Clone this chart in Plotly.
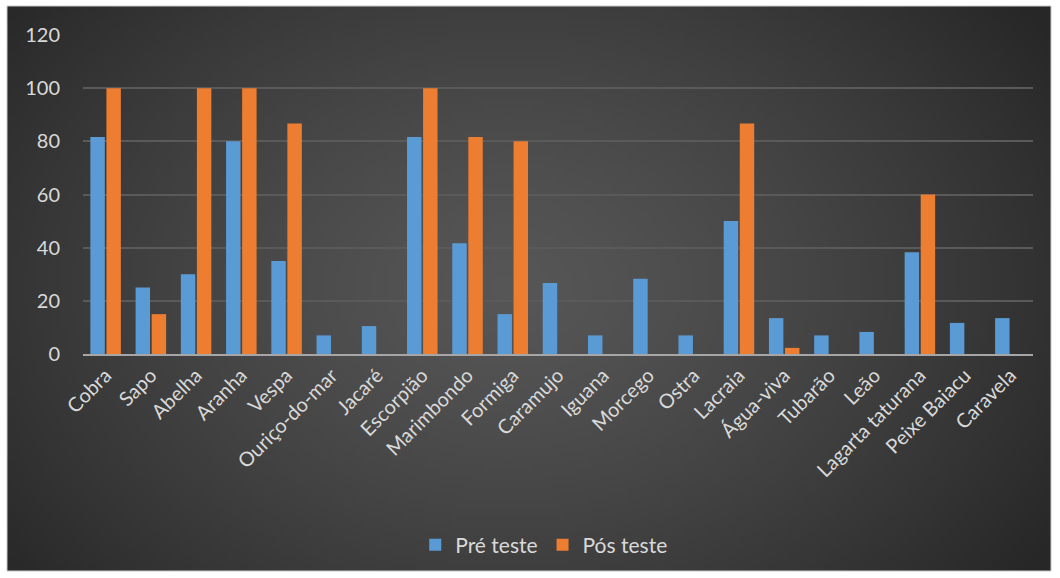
import base64, struct, zlib, math
import plotly.graph_objects as go

categories = ["Cobra", "Sapo", "Abelha", "Aranha", "Vespa", "Ouriço-do-mar", "Jacaré",
              "Escorpião", "Marimbondo", "Formiga", "Caramujo", "Iguana", "Morcego", "Ostra",
              "Lacraia", "Água-viva", "Tubarão", "Leão", "Lagarta taturana", "Peixe Baiacu", "Caravela"]
pre_teste = [81.6, 25, 30, 80, 35, 7, 10.5, 81.6, 41.7, 15, 26.7, 7, 28.3, 7, 50, 13.5, 7, 8.3, 38.3, 11.7, 13.5]
pos_teste = [100, 15, 100, 100, 86.7, 0, 0, 100, 81.6, 80, 0, 0, 0, 0, 86.7, 2.3, 0, 0, 60, 0, 0]
y_ticks = [0, 20, 40, 60, 80, 100, 120]


def gradient_png(w, h):
    rows = []
    for j in range(h):
        row = bytearray([0])
        for i in range(w):
            dx = (i / (w - 1) - 0.48) / 0.62
            dy = (j / (h - 1) - 0.5) / 0.85
            d = min(1.0, math.sqrt(dx * dx + dy * dy))
            v = int(round(0x56 + (0x27 - 0x56) * d ** 1.3))
            row += bytes([v, v, v])
        rows.append(bytes(row))
    raw = b"".join(rows)

    def chunk(t, data):
        c = struct.pack(">I", len(data)) + t + data
        return c + struct.pack(">I", zlib.crc32(t + data) & 0xFFFFFFFF)

    png = b"\x89PNG\r\n\x1a\n"
    png += chunk(b"IHDR", struct.pack(">IIBBBBB", w, h, 8, 2, 0, 0, 0))
    png += chunk(b"IDAT", zlib.compress(raw, 9))
    png += chunk(b"IEND", b"")
    return "data:image/png;base64," + base64.b64encode(png).decode()


W, H = 1060, 578
L, R, T, B = 83, 27, 35, 224
pw, ph = W - L - R, H - T - B

fig = go.Figure()
fig.add_trace(go.Bar(x=categories, y=pre_teste, name="Pré teste",
                     marker=dict(color="#5b9bd5", line=dict(width=0))))
fig.add_trace(go.Bar(x=categories, y=pos_teste, name="Pós teste",
                     marker=dict(color="#ed7d31", line=dict(width=0))))

# background area in paper coords
bx0, bx1, by0, by1 = 7, 1051, 6, 571
fig.add_layout_image(dict(
    source=gradient_png(220, 120), xref="paper", yref="paper",
    x=(bx0 - L) / pw, y=(H - B - by0) / ph,
    sizex=(bx1 - bx0) / pw, sizey=(by1 - by0) / ph,
    xanchor="left", yanchor="top", sizing="stretch", layer="below"))
fig.add_shape(type="rect", xref="paper", yref="paper",
              x0=(bx0 - L) / pw, x1=(bx1 - L) / pw,
              y0=(H - B - by1) / ph, y1=(H - B - by0) / ph,
              line=dict(color="#c8c8c8", width=1), layer="below")

font = "Lato, 'Open Sans', sans-serif"
fig.update_layout(
    width=W, height=H,
    margin=dict(l=L, r=R, t=T, b=B),
    paper_bgcolor="white", plot_bgcolor="rgba(0,0,0,0)",
    barmode="group", bargap=0.29, bargroupgap=0.1,
    font=dict(family=font, color="#d9d9d9", size=20),
    legend=dict(orientation="h", x=0.485, xanchor="center", y=(H - B - 545) / ph, yanchor="middle",
                font=dict(size=21, color="#d9d9d9"), bgcolor="rgba(0,0,0,0)",
                itemwidth=30, traceorder="normal"),
    showlegend=True,
)
fig.update_xaxes(tickangle=-45, tickfont=dict(size=20, color="#d9d9d9"),
                 showgrid=False, showline=True, linecolor="#a6a6a6", linewidth=2,
                 ticks="", fixedrange=True)
fig.update_yaxes(range=[0, 120], tickvals=y_ticks, tickfont=dict(size=20, color="#d9d9d9"),
                 showgrid=True, gridcolor="#5a5a5a", gridwidth=2, zeroline=False,
                 showline=False, ticks="", ticklabelstandoff=22)

fig.write_html("out.html")
